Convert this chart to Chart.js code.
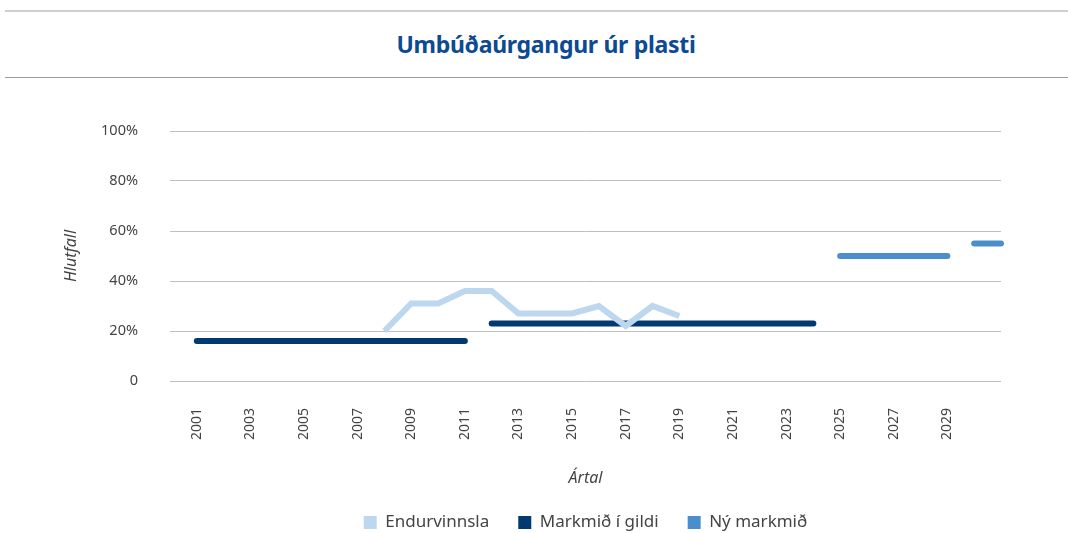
<!DOCTYPE html>
<html>
<head>
<meta charset="utf-8">
<script src="https://cdn.jsdelivr.net/npm/chart.js@4/dist/chart.umd.min.js"></script>
<style>
  body { margin: 0; background: #fff; width: 1068px; height: 533px; overflow: hidden; position: relative; font-family: "Noto Sans", sans-serif; }
  .rule-top { position: absolute; left: 5px; right: 0; top: 10px; height: 2px; background: #cfcfcf; }
  .rule-bottom { position: absolute; left: 5px; right: 0; top: 77px; height: 1px; background: #9a9a9a; }
  h1 { position: absolute; top: 28px; left: 0; width: 1092px; margin: 0; text-align: center; font-size: 23px; font-weight: 700; color: #0c4a91; letter-spacing: -0.3px; }
  #chartWrap { position: absolute; left: 0; top: 80px; }
</style>
</head>
<body>
<div class="rule-top"></div>
<h1>Umbúðaúrgangur úr plasti</h1>
<div class="rule-bottom"></div>
<div id="chartWrap"><canvas id="chart" width="1068" height="461"></canvas></div>
<script>
const years = ['2000','2001','2002','2003','2004','2005','2006','2007','2008','2009',
  '2010','2011','2012','2013','2014','2015','2016','2017','2018','2019',
  '2020','2021','2022','2023','2024','2025','2026','2027','2028','2029','2030','2031'];

// Endurvinnsla (%), 2008-2019
const recycling = [null,null,null,null,null,null,null,null,
  20,31,31,36,36,27,27,27,30,22,30,26,
  null,null,null,null,null,null,null,null,null,null,null,null];

// Markmið í gildi (%)
const currentTarget = [null,
  16,16,16,16,16,16,16,16,16,16,16,
  23,23,23,23,23,23,23,23,23,23,23,23,23,
  null,null,null,null,null,null,null];

// Ný markmið (%)
const newTarget = [null,null,null,null,null,null,null,null,null,null,
  null,null,null,null,null,null,null,null,null,null,
  null,null,null,null,null,
  50,50,50,50,50,55,55];

const yTicks = [0, 20, 40, 60, 80, 100];

// hide the connecting piece where the target value steps
const step = (ctx) => ctx.p0.parsed.y !== ctx.p1.parsed.y ? 'rgba(0,0,0,0)' : undefined;

const textColor = '#444';

new Chart(document.getElementById('chart').getContext('2d'), {
  type: 'line',
  data: {
    labels: years,
    datasets: [{
      label: 'Endurvinnsla',
      data: recycling,
      borderColor: '#bdd7ee',
      backgroundColor: '#bdd7ee',
      borderWidth: 6,
      pointRadius: 0,
      spanGaps: false
    }, {
      label: 'Markmið í gildi',
      data: currentTarget,
      borderColor: '#003a70',
      backgroundColor: '#003a70',
      borderWidth: 6,
      borderCapStyle: 'round',
      pointRadius: 0,
      segment: { borderColor: step }
    }, {
      label: 'Ný markmið',
      data: newTarget,
      borderColor: '#4a8fcc',
      backgroundColor: '#4a8fcc',
      borderWidth: 6,
      borderCapStyle: 'round',
      pointRadius: 0,
      segment: { borderColor: step }
    }]
  },
  options: {
    responsive: false,
    animation: false,
    layout: { padding: { left: 62, right: 67, top: 51, bottom: 0 } },
    scales: {
      x: {
        offset: false,
        grid: { display: false, drawTicks: false },
        border: { display: false },
        ticks: {
          autoSkip: false,
          minRotation: 90,
          maxRotation: 90,
          padding: 27,
          color: textColor,
          font: { family: 'Noto Sans', size: 14 },
          callback: function (value, index) {
            const y = Number(years[index]);
            return (y % 2 === 1 && y < 2031) ? years[index] : '';
          }
        },
        title: {
          display: true,
          text: 'Ártal',
          color: textColor,
          font: { family: 'Noto Sans', size: 16, style: 'italic' },
          padding: { top: 0, bottom: -3.5 }
        },
        afterFit: (scale) => { scale.height = 104; }
      },
      y: {
        min: 0,
        max: 100,
        afterBuildTicks: (scale) => { scale.ticks = yTicks.map(v => ({ value: v })); },
        grid: { color: '#bfbfbf', lineWidth: 1, drawTicks: false },
        border: { display: false },
        ticks: {
          padding: 32,
          color: textColor,
          font: { family: 'Noto Sans', size: 14.5 },
          callback: (v) => v === 0 ? '0' : v + '%'
        },
        title: {
          display: true,
          text: 'Hlutfall',
          color: textColor,
          font: { family: 'Noto Sans', size: 16, style: 'italic' },
          padding: 0
        },
        afterFit: (scale) => { scale.width = 108; }
      }
    },
    plugins: {
      tooltip: { enabled: false },
      legend: {
        position: 'bottom',
        fullSize: false,
        labels: {
          color: textColor,
          font: { family: 'Noto Sans', size: 17 },
          boxWidth: 13,
          boxHeight: 13,
          padding: 29,
          generateLabels: (chart) => chart.data.datasets.map((ds, i) => ({
            text: ds.label,
            fillStyle: ds.borderColor,
            strokeStyle: ds.borderColor,
            lineWidth: 0,
            hidden: false,
            datasetIndex: i,
            fontColor: textColor
          }))
        }
      }
    }
  }
});
</script>
</body>
</html>
